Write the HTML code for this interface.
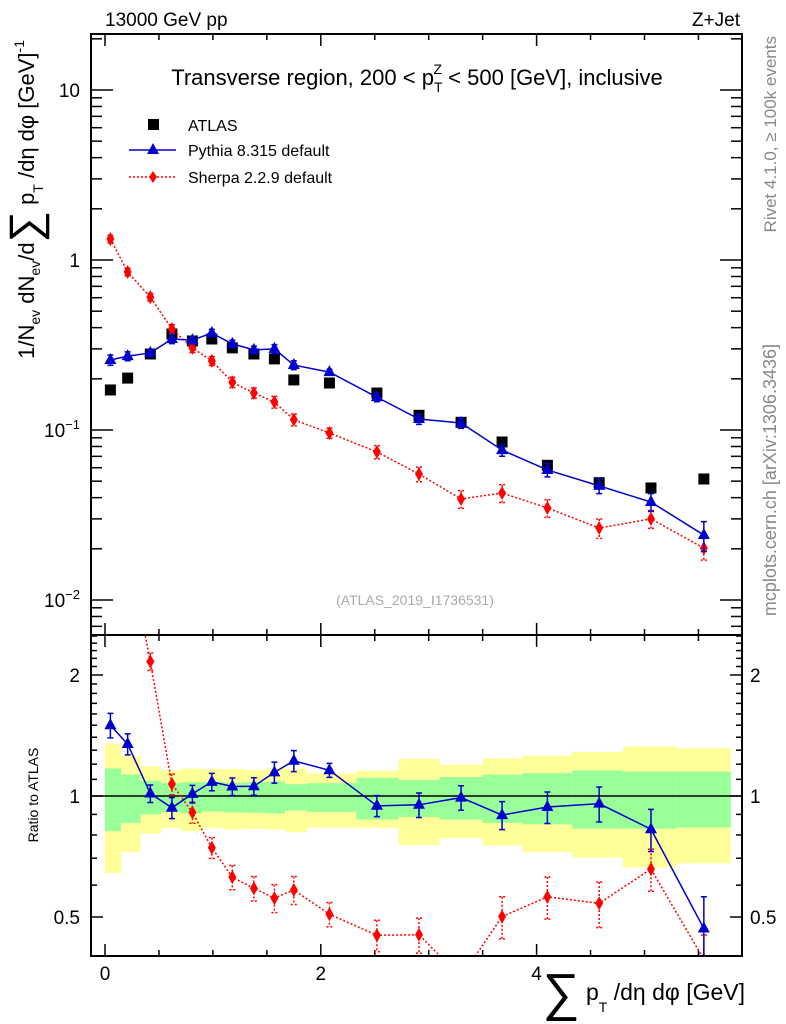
<!DOCTYPE html>
<html><head><meta charset="utf-8"><style>
html,body{margin:0;padding:0;background:#fff}
svg{display:block;font-family:"Liberation Sans",sans-serif}
</style></head><body>
<svg id="chart" width="786" height="1024" viewBox="0 0 786 1024" xmlns="http://www.w3.org/2000/svg">
<defs>
<clipPath id="clipTop"><rect x="91" y="34" width="651" height="601"/></clipPath>
<clipPath id="clipBot"><rect x="91" y="635" width="651" height="321"/></clipPath>
</defs>
<g id="bands" clip-path="url(#clipBot)"></g>
<g id="grid"></g>
<g id="series"></g>
<rect x="91" y="34" width="651" height="601" fill="none" stroke="#000" stroke-width="2"/>
<rect x="91" y="635" width="651" height="321" fill="none" stroke="#000" stroke-width="2"/>
<text x="105" y="26" font-size="19">13000 GeV pp</text>
<text x="740" y="26" font-size="19" text-anchor="end">Z+Jet</text>
<text x="417" y="85" font-size="22" text-anchor="middle">Transverse region, 200 &lt; p<tspan font-size="14" dy="7">T</tspan><tspan font-size="14" dx="-9" dy="-18">Z</tspan><tspan dy="11"> &lt; 500 [GeV], inclusive</tspan></text>
<g>
<rect x="148" y="119" width="11" height="11" fill="#000"/>
<text x="188" y="131" font-size="16">ATLAS</text>
<line x1="129" y1="150" x2="176" y2="150" stroke="#0000cc" stroke-width="1.5"/>
<path d="M153 143 L159 154 L147 154 Z" fill="#0000cc"/>
<text x="188" y="156" font-size="16">Pythia 8.315 default</text>
<line x1="129" y1="177" x2="176" y2="177" stroke="#ff0000" stroke-width="1.5" stroke-dasharray="2,2"/>
<path d="M153 171 L157 177 L153 183 L149 177 Z" fill="#ff0000"/>
<text x="188" y="183" font-size="16">Sherpa 2.2.9 default</text>
</g>
<text x="415" y="605" font-size="14" fill="#aaaaaa" text-anchor="middle">(ATLAS_2019_I1736531)</text>
<text transform="translate(34,40) rotate(-90)" font-size="22" text-anchor="end">1/N<tspan font-size="14" dy="6">ev</tspan><tspan dy="-6"> dN</tspan><tspan font-size="14" dy="6">ev</tspan><tspan dy="-6">/d</tspan><tspan font-size="44" dy="6">∑</tspan><tspan dy="-6"> p</tspan><tspan font-size="14" dy="9">T</tspan><tspan dy="-9"> /dη dφ  [GeV]</tspan><tspan font-size="14" dy="-10">-1</tspan></text>
<text transform="translate(38,795) rotate(-90)" font-size="14" text-anchor="middle">Ratio to ATLAS</text>
<text x="745" y="1000" font-size="23" text-anchor="end"><tspan font-size="52" dy="10">∑</tspan><tspan dy="-10"> p</tspan><tspan font-size="14" dy="12">T</tspan><tspan dy="-12"> /dη dφ [GeV]</tspan></text>
<text transform="translate(776,36) rotate(-90)" font-size="17" fill="#888" text-anchor="end">Rivet 4.1.0, ≥ 100k events</text>
<text transform="translate(776,344) rotate(-90)" font-size="18" fill="#888" text-anchor="end">mcplots.cern.ch [arXiv:1306.3436]</text>
</svg>
<script>
const xVals = [0.05,0.21,0.42,0.62,0.81,0.99,1.18,1.38,1.57,1.75,2.08,2.52,2.91,3.30,3.68,4.10,4.58,5.06,5.55];
const binEdges = [0,0.15,0.33,0.52,0.7,0.9,1.1,1.3,1.5,1.67,1.87,2.33,2.72,3.1,3.5,3.87,4.33,4.8,5.3,5.8];
const atlas = [0.172,0.202,0.28,0.367,0.334,0.343,0.304,0.28,0.262,0.197,0.189,0.165,0.122,0.111,0.085,0.062,0.049,0.0456,0.0515];
const pythia = [0.258,0.272,0.284,0.343,0.338,0.372,0.321,0.296,0.30,0.241,0.219,0.156,0.116,0.110,0.0762,0.0582,0.0469,0.0377,0.0241];
const sherpa = [1.33,0.85,0.605,0.393,0.304,0.255,0.191,0.165,0.146,0.115,0.096,0.0743,0.0551,0.0393,0.0426,0.0348,0.0265,0.030,0.0202];
const pythiaErr = [0.07,0.06,0.05,0.06,0.05,0.05,0.05,0.05,0.06,0.06,0.04,0.06,0.07,0.07,0.08,0.09,0.1,0.12,0.2];
const sherpaErr = [0.05,0.05,0.05,0.06,0.06,0.06,0.07,0.07,0.08,0.08,0.07,0.09,0.1,0.12,0.12,0.12,0.13,0.12,0.15];
const yellowHi = [1.35,1.26,1.185,1.158,1.171,1.167,1.167,1.16,1.17,1.17,1.138,1.156,1.236,1.196,1.24,1.26,1.287,1.328,1.315];
const yellowLo = [0.643,0.725,0.806,0.833,0.818,0.833,0.825,0.829,0.825,0.812,0.834,0.833,0.755,0.786,0.753,0.725,0.703,0.664,0.68];
const greenHi = [1.171,1.131,1.091,1.076,1.082,1.085,1.078,1.083,1.087,1.07,1.076,1.11,1.095,1.115,1.13,1.14,1.158,1.15,1.15];
const greenLo = [0.818,0.857,0.9,0.913,0.905,0.915,0.91,0.908,0.905,0.92,0.913,0.874,0.887,0.874,0.857,0.85,0.829,0.829,0.835];
const xTicks = [0,2,4];
const yTicksMain = [10,1,0.1,0.01];
const yTicksRatio = [2,1,0.5];

const NS = "http://www.w3.org/2000/svg";
const X = v => 105 + v * 107.9;
const Y = v => 260 - Math.log10(v) * 170;
const R = v => 796 - Math.log2(v) * 121;
function mk(tag, attrs, parent) {
  const e = document.createElementNS(NS, tag);
  for (const k in attrs) e.setAttribute(k, attrs[k]);
  parent.appendChild(e);
  return e;
}
const bands = document.getElementById('bands');
const grid = document.getElementById('grid');
const series = document.getElementById('series');

for (let i = 0; i < yellowHi.length; i++) {
  const x0 = X(binEdges[i]), x1 = X(binEdges[i + 1]);
  const y = mk('rect', {x: x0, y: R(yellowHi[i]), width: x1 - x0, height: R(yellowLo[i]) - R(yellowHi[i]), fill: '#ffff99'}, bands);
  
  
  const g = mk('rect', {x: x0, y: R(greenHi[i]), width: x1 - x0, height: R(greenLo[i]) - R(greenHi[i]), fill: '#99ff99'}, bands);
  
  
}
const one = mk('line', {x1: 91, x2: 742, y1: R(1), y2: R(1), stroke: '#000', 'stroke-width': 1.5}, grid);



for (let v = 0; v <= 5.75; v += 0.5) {
  const major = Math.abs(v - Math.round(v / 2) * 2) < 1e-6;
  const L = major ? 12 : 6;
  const x = X(v);
  [[34, 34 + L], [635, 635 - L], [635, 635 + L], [956, 956 - L]].forEach(p => {
    const t = mk('line', {x1: x, x2: x, y1: p[0], y2: p[1], stroke: '#000', 'stroke-width': 1.5}, grid);
    
    
  });
}
xTicks.forEach(v => {
  const t = mk('text', {x: X(v), y: 980, 'font-size': 19, 'text-anchor': 'middle'}, grid);
  t.textContent = v;
  
  
});
for (let d = -3; d <= 1; d++) {
  for (let m = 1; m <= 9; m++) {
    const v = m * Math.pow(10, d);
    const y = Y(v);
    if (y < 35 || y > 634) continue;
    const L = m === 1 ? 22 : 11;
    [[91, 91 + L], [742, 742 - L]].forEach(p => {
      const t = mk('line', {x1: p[0], x2: p[1], y1: y, y2: y, stroke: '#000', 'stroke-width': 1.5}, grid);
      
      
    });
  }
}
yTicksMain.forEach(v => {
  const t = mk('text', {x: 80, y: Y(v) + 7, 'font-size': 19, 'text-anchor': 'end'}, grid);
  const e = Math.round(Math.log10(v));
  if (e === 1) t.textContent = '10';
  else if (e === 0) t.textContent = '1';
  else { t.textContent = '10'; const s = mk('tspan', {'font-size': 13, dy: -8}, t); s.textContent = String(e).replace('-', '−'); }
  
  
});
for (let v = 0.4; v <= 2.6; v += 0.1) {
  const y = R(v);
  if (y < 636 || y > 955) continue;
  const major = [0.5, 1, 2].some(m => Math.abs(m - v) < 1e-6);
  const L = major ? 12 : 6;
  [[91, 91 + L], [742, 742 - L]].forEach(p => {
    const t = mk('line', {x1: p[0], x2: p[1], y1: y, y2: y, stroke: '#000', 'stroke-width': 1.5}, grid);
    
    
  });
}
yTicksRatio.forEach(v => {
  [[80, 'end'], [750, 'start']].forEach(p => {
    const t = mk('text', {x: p[0], y: R(v) + 7, 'font-size': 19, 'text-anchor': p[1]}, grid);
    t.textContent = v;
    
    
  });
});

function drawSeries(vals, errs, color, dash, marker, yf, clip, name) {
  const g = mk('g', {'clip-path': 'url(#' + clip + ')'}, series);
  
  
  const pts = vals.map((v, i) => X(xVals[i]) + ',' + yf(v)).join(' ');
  const pl = mk('polyline', {points: pts, fill: 'none', stroke: color, 'stroke-width': 1.5, 'stroke-dasharray': dash}, g);
  
  
  vals.forEach((v, i) => {
    const x = X(xVals[i]), y = yf(v);
    if (errs) {
      const y0 = yf(v * (1 + errs[i])), y1 = yf(v * (1 - errs[i]));
      const eb = mk('path', {d: `M${x} ${y0}V${y1}M${x-3} ${y0}H${x+3}M${x-3} ${y1}H${x+3}`, stroke: color, 'stroke-width': 1.5, fill: 'none', 'stroke-dasharray': dash}, g);
      
      
    }
    let m;
    if (marker === 'tri') m = mk('path', {d: `M${x} ${y-7}L${x+6} ${y+4}L${x-6} ${y+4}Z`, fill: color}, g);
    else m = mk('path', {d: `M${x} ${y-7}L${x+4} ${y}L${x} ${y+7}L${x-4} ${y}Z`, fill: color}, g);
    
    
  });
}
const ag = mk('g', {'clip-path': 'url(#clipTop)'}, series);


atlas.forEach((v, i) => {
  const r = mk('rect', {x: X(xVals[i]) - 5.5, y: Y(v) - 5.5, width: 11, height: 11, fill: '#000'}, ag);
  
  
});
drawSeries(sherpa, sherpaErr, '#ff0000', '2,2', 'dia', Y, 'clipTop', 'sherpa-main');
drawSeries(pythia, pythiaErr, '#0000cc', 'none', 'tri', Y, 'clipTop', 'pythia-main');
const sR = sherpa.map((v, i) => v / atlas[i]);
const pR = pythia.map((v, i) => v / atlas[i]);
drawSeries(sR, sherpaErr, '#ff0000', '2,2', 'dia', R, 'clipBot', 'sherpa-ratio');
drawSeries(pR, pythiaErr, '#0000cc', 'none', 'tri', R, 'clipBot', 'pythia-ratio');
</script>
</body></html>
